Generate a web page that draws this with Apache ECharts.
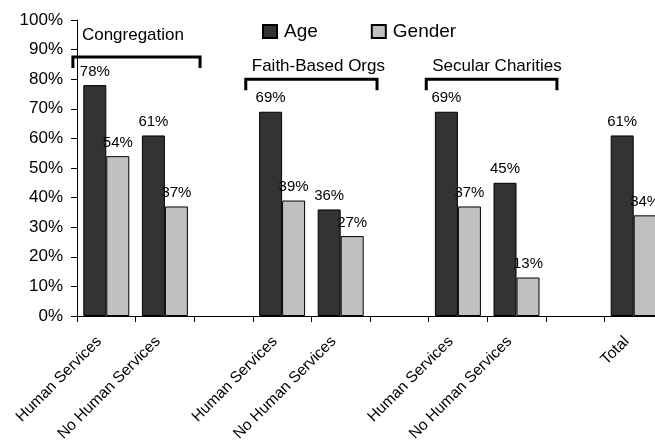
<!DOCTYPE html>
<html>
<head>
<meta charset="utf-8">
<script src="https://cdn.jsdelivr.net/npm/echarts@6/dist/echarts.min.js"></script>
<style>
  html, body { margin: 0; padding: 0; background: #fff; }
  #chart { width: 655px; height: 442px; }
</style>
</head>
<body>
<div id="chart"></div>
<script>
// ---- data ----
var categories = ['Human Services', 'No Human Services', '', 'Human Services', 'No Human Services', '', 'Human Services', 'No Human Services', '', 'Total'];
var ageValues    = [78, 61, null, 69, 36, null, 69, 45, null, 61];
var genderValues = [54, 37, null, 39, 27, null, 37, 13, null, 34];
var seriesNames = ['Age', 'Gender'];
var yTicks = [0, 10, 20, 30, 40, 50, 60, 70, 80, 90, 100];

// bracket groups: label, first category index, last category index, bracket level (%), label level (%)
var bracketLabels = ['Congregation', 'Faith-Based Orgs', 'Secular Charities'];
var bracketFirst  = [0, 3, 6];
var bracketLast   = [1, 4, 7];
var bracketLevel  = [87.5, 80, 80];
var bracketTextLevel = [94.8, 84.4, 84.4];

// styling for brackets (overhang in band widths, text inset in px)
var BR_PAD_L = [0.57, 0.62, 0.54];
var BR_PAD_R = [0.60, 0.62, 0.69];
var BR_TEXT_INSET = [9, 6, 6];

var FONT = '"Liberation Sans", Arial, sans-serif';

var bracketData = bracketLabels.map(function (l, i) {
  return [bracketFirst[i], bracketLast[i], bracketLevel[i], bracketTextLevel[i], i];
});

var chart = echarts.init(document.getElementById('chart'), null, { renderer: 'canvas' });

var option = {
  animation: false,
  backgroundColor: '#ffffff',
  textStyle: { fontFamily: FONT, color: '#000' },
  legend: {
    data: seriesNames,
    left: 262,
    top: 22,
    padding: 0,
    itemWidth: 14,
    itemHeight: 13,
    itemGap: 53,
    icon: 'rect',
    textStyle: { fontFamily: FONT, fontSize: 19, color: '#000', padding: [0, 0, 0, 2] }
  },
  grid: { left: 77, top: 20, width: 586, bottom: 126, containLabel: false, outerBoundsMode: 'none' },
  xAxis: {
    type: 'category',
    data: categories,
    axisLine: { lineStyle: { color: '#000', width: 1 } },
    axisTick: { show: true, length: 6, lineStyle: { color: '#000' } },
    axisLabel: {
      interval: 0,
      rotate: 45,
      margin: 16,
      padding: [0, 10, 0, 0],
      fontFamily: FONT,
      fontSize: 15.5,
      color: '#000'
    },
    splitLine: { show: false }
  },
  yAxis: {
    type: 'value',
    min: yTicks[0],
    max: yTicks[yTicks.length - 1],
    interval: 10,
    axisLine: { show: true, lineStyle: { color: '#000', width: 1 } },
    axisTick: { show: true, length: 6, lineStyle: { color: '#000' } },
    axisLabel: {
      formatter: '{value}%',
      margin: 14,
      padding: [2, 0, 0, 0],
      fontFamily: FONT,
      fontSize: 17,
      color: '#000'
    },
    splitLine: { show: false }
  },
  series: [
    {
      name: seriesNames[0],
      type: 'bar',
      data: ageValues,
      barGap: '0%',
      barCategoryGap: '21.5%',
      itemStyle: { color: '#333333', borderColor: '#000', borderWidth: 1 },
      label: {
        show: true, position: 'top', distance: 6,
        formatter: '{c}%', fontFamily: FONT, fontSize: 15, color: '#000'
      }
    },
    {
      name: seriesNames[1],
      type: 'bar',
      data: genderValues,
      barGap: '0%',
      barCategoryGap: '21.5%',
      itemStyle: { color: '#c0c0c0', borderColor: '#000', borderWidth: 1 },
      label: {
        show: true, position: 'top', distance: 6,
        formatter: '{c}%', fontFamily: FONT, fontSize: 15, color: '#000'
      }
    },
    {
      name: 'brackets',
      type: 'custom',
      silent: true,
      clip: false,
      z: 10,
      data: bracketData,
      encode: { x: 0, y: 2 },
      renderItem: function (params, api) {
        var first = api.value(0), last = api.value(1);
        var lvl = api.value(2), tlvl = api.value(3);
        var idx = api.value(4);
        var band = api.size([1, 0])[0];
        var pFirst = api.coord([first, lvl]);
        var pLast = api.coord([last, lvl]);
        var x0 = pFirst[0] - BR_PAD_L[idx] * band;
        var x1 = pLast[0] + BR_PAD_R[idx] * band;
        var yT = pFirst[1];
        var yB = yT + 11;
        var ty = api.coord([first, tlvl])[1];
        return {
          type: 'group',
          children: [
            {
              type: 'polyline',
              shape: { points: [[x0, yB], [x0, yT], [x1, yT], [x1, yB]] },
              style: { stroke: '#000', lineWidth: 3, fill: null }
            },
            {
              type: 'text',
              style: {
                text: bracketLabels[idx],
                x: x0 + BR_TEXT_INSET[idx],
                y: ty,
                verticalAlign: 'middle',
                align: 'left',
                fontFamily: FONT,
                fontSize: 17,
                fill: '#000'
              }
            }
          ]
        };
      }
    }
  ]
};

chart.setOption(option);
</script>
</body>
</html>
